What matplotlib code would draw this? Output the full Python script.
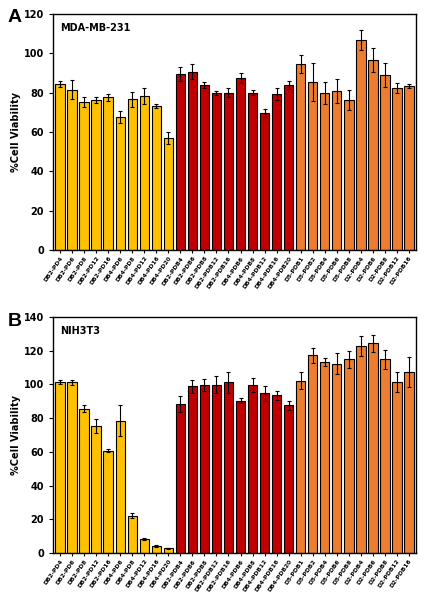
import matplotlib.pyplot as plt
import numpy as np

labels = ["DB2-PD4", "DB2-PD6", "DB2-PD8", "DB2-PD12", "DB2-PD16",
          "DB4-PD6", "DB4-PD8", "DB4-PD12", "DB4-PD16", "DB4-PD20",
          "DB2-PDB4", "DB2-PDB6", "DB2-PDB8", "DB2-PDB12", "DB2-PDB16",
          "DB4-PDB6", "DB4-PDB8", "DB4-PDB12", "DB4-PDB16", "DB4-PDB20",
          "D5-PDB1", "D5-PDB2", "D5-PDB4", "D5-PDB6", "D5-PDB8",
          "D2-PDB4", "D2-PDB6", "D2-PDB8", "D2-PDB12", "D2-PDB16"]

# panel A: MDA-MB-231
mda_values = [84.5, 81.5, 75.0, 76.3, 77.5, 67.5, 76.5, 78.2, 73.2, 56.7,
              89.5, 90.7, 83.8, 80.0, 80.0, 87.6, 80.0, 69.8, 79.4, 84.0,
              94.4, 85.3, 79.8, 80.8, 76.2, 106.8, 96.5, 88.8, 82.3, 83.3]
mda_errors = [1.5, 5.0, 2.5, 1.5, 2.0, 3.0, 4.0, 4.0, 0.8, 3.0,
              3.5, 4.0, 1.5, 1.0, 2.5, 2.5, 1.2, 2.0, 3.0, 2.0,
              4.5, 9.5, 5.5, 6.0, 5.0, 5.0, 6.0, 6.0, 2.5, 1.0]

# panel B: NIH3T3
nih_values = [101.4, 101.2, 85.7, 75.3, 60.8, 78.6, 22.2, 8.3, 4.2, 2.8,
              88.4, 98.8, 99.8, 99.8, 101.2, 90.3, 99.6, 94.7, 93.5, 87.6,
              102.2, 117.4, 113.2, 112.4, 115.0, 122.7, 124.3, 114.8, 101.6, 107.3]
nih_errors = [1.0, 1.5, 2.0, 4.0, 1.0, 9.0, 1.5, 0.7, 0.4, 0.4,
              4.5, 4.0, 3.5, 5.0, 6.0, 1.5, 4.0, 4.5, 2.5, 2.5,
              5.0, 4.5, 2.5, 6.5, 5.0, 6.0, 5.0, 5.5, 6.0, 9.0]

group_colors = ["#FFC000"] * 10 + ["#C00000"] * 10 + ["#ED7D31"] * 10

plt.rcParams["font.family"] = ["DejaVu Sans"]
plt.rcParams["font.weight"] = "bold"

fig = plt.figure(figsize=(4.26, 6.05), dpi=100)
ax_a = fig.add_axes([0.124, 0.587, 0.853, 0.39])
ax_b = fig.add_axes([0.124, 0.086, 0.853, 0.39])

x = np.arange(len(labels))


def draw_panel(ax, values, errors, ymax, name, letter, letter_y):
    ax.bar(x, values, width=0.78, color=group_colors, edgecolor="black", linewidth=0.8,
           yerr=errors, capsize=1.5, error_kw={"elinewidth": 0.8, "capthick": 0.8, "ecolor": "black"})
    ax.set_xlim(-0.6, len(labels) - 0.4)
    ax.set_ylim(0, ymax)
    ax.set_yticks(np.arange(0, ymax + 1, 20))
    ax.set_xticks(x)
    ax.set_xticklabels(labels, rotation=55, ha="right", rotation_mode="anchor", fontsize=4.3, fontweight="bold")
    ax.tick_params(axis="y", labelsize=7, direction="out", length=3, width=0.8)
    ax.tick_params(axis="x", direction="out", length=2.5, width=0.8, pad=1.5)
    for lab in ax.get_yticklabels():
        lab.set_fontweight("bold")
    ax.set_ylabel("%Cell Viability", fontsize=7, fontweight="bold", labelpad=2)
    for spine in ax.spines.values():
        spine.set_linewidth(1.0)
    ax.text(0.02, 0.96, name, transform=ax.transAxes, fontsize=7, fontweight="bold", va="top")
    ax.text(-0.125, letter_y, letter, transform=ax.transAxes, fontsize=14, fontweight="bold",
            va="center", family=["Liberation Sans", "DejaVu Sans"])


draw_panel(ax_a, mda_values, mda_errors, 120, "MDA-MB-231", "A", 0.985)
draw_panel(ax_b, nih_values, nih_errors, 140, "NIH3T3", "B", 0.98)

fig.savefig("out.png", dpi=100)
